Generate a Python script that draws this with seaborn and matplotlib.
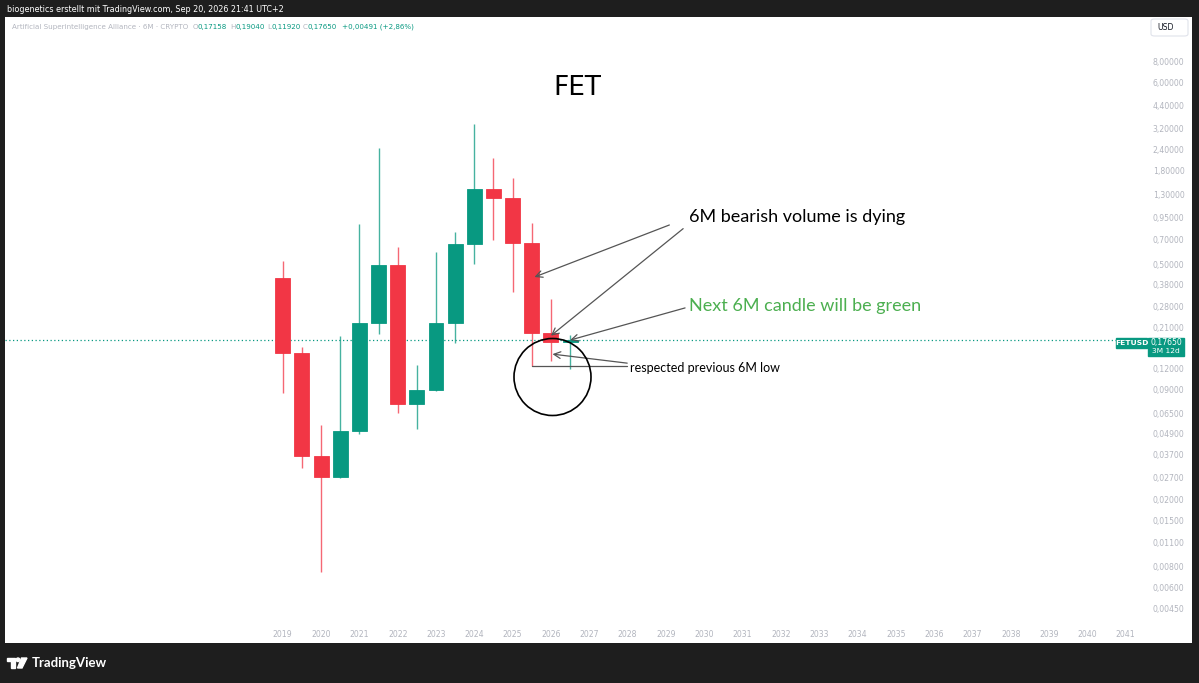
import matplotlib
matplotlib.use("Agg")
import matplotlib.pyplot as plt
import matplotlib.patches as mpatches
import seaborn as sns
import numpy as np

# 6M candles for FETUSD (start of each half year)
periods = [2019.0, 2019.5, 2020.0, 2020.5, 2021.0, 2021.5, 2022.0, 2022.5,
           2023.0, 2023.5, 2024.0, 2024.5, 2025.0, 2025.5, 2026.0, 2026.5]
opens = [0.413, 0.148, 0.0363, 0.0270, 0.0509, 0.2245, 0.495, 0.0734,
         0.0897, 0.2245, 0.663, 1.403, 1.246, 0.667, 0.194, 0.17158]
highs = [0.523, 0.160, 0.0553, 0.187, 0.869, 2.47, 0.636, 0.1258,
         0.594, 0.781, 3.42, 2.155, 1.626, 0.877, 0.309, 0.19040]
lows = [0.0853, 0.0308, 0.0074, 0.0266, 0.0486, 0.193, 0.0654, 0.0521,
        0.088, 0.1707, 0.504, 0.6975, 0.3406, 0.124, 0.133, 0.11920]
closes = [0.148, 0.0363, 0.0270, 0.0509, 0.2245, 0.495, 0.0734, 0.0897,
          0.2245, 0.663, 1.403, 1.246, 0.667, 0.194, 0.17158, 0.17650]

last_price = 0.17650
price_ticks = [8.0, 6.0, 4.4, 3.2, 2.4, 1.8, 1.3, 0.95, 0.70, 0.50, 0.38, 0.28, 0.21,
               0.12, 0.09, 0.065, 0.049, 0.037, 0.027, 0.020, 0.015, 0.011, 0.008,
               0.006, 0.0045]
year_ticks = list(range(2019, 2042))

GREEN = "#089981"
RED = "#f23645"
DARK = "#1e1e1e"
GREY = "#b2b5be"

sns.set_theme(style="white")
plt.rcParams['font.family'] = ['DejaVu Sans']

W, H = 1199, 683
fig = plt.figure(figsize=(W / 100, H / 100), dpi=100)
fig.patch.set_facecolor(DARK)


def fx(x):
    return x / W


def fy(y):
    return 1 - y / H


# white panel (behind the axes)
fig.patches.append(mpatches.Rectangle((fx(5), fy(643)), fx(1187), 626 / H,
                                      transform=fig.transFigure, facecolor="white",
                                      edgecolor="none", zorder=-10))

ax = fig.add_axes([fx(5), fy(625), fx(1138), 607 / H])
ax.set_facecolor("white")
ax.set_yscale("log")
ax.set_xlim(2011.753, 2041.45)
ax.set_ylim(0.003565, 14.62)

# candles
for t, o, h, l, c in zip(periods, opens, highs, lows, closes):
    col = GREEN if c >= o else RED
    ax.vlines(t, l, h, color=col, lw=1, alpha=0.75, zorder=2)
    ax.bar(t, abs(c - o), bottom=min(o, c), width=0.39, color=col,
           edgecolor=col, linewidth=0.6, zorder=3)

# last price line
ax.axhline(last_price, color=GREEN, lw=0.9, ls=(0, (1, 2)), zorder=1, xmax=0.985)

for s in ax.spines.values():
    s.set_visible(False)
ax.grid(False)
ax.yaxis.tick_right()
ax.set_yticks(price_ticks)
ax.set_yticklabels([f"{v:.5f}".replace(".", ",") for v in price_ticks])
ax.yaxis.set_minor_locator(matplotlib.ticker.NullLocator())
ax.set_xticks(year_ticks)
ax.set_xticklabels([str(y) for y in year_ticks])
ax.tick_params(axis="y", length=0, pad=7, labelsize=5.6, labelcolor=GREY)
ax.tick_params(axis="x", length=0, pad=3.5, labelsize=5.6, labelcolor=GREY)

# annotations
ax.text(2026.69, 5.6, "FET", fontsize=19, ha="center", va="center", color="black")
arrow = dict(arrowstyle="->", color="#555555", lw=0.9, shrinkA=0, shrinkB=0)
ax.annotate("", xy=(2025.57, 0.42), xytext=(2029.09, 0.857), arrowprops=arrow)
ax.annotate("", xy=(2026.0, 0.188), xytext=(2029.45, 0.815), arrowprops=arrow)
ax.text(2029.61, 0.956, "6M bearish volume is dying", fontsize=13, va="center",
        color="black", family="Lato")
ax.annotate("", xy=(2026.5, 0.177), xytext=(2029.5, 0.275), arrowprops=arrow)
ax.text(2029.61, 0.282, "Next 6M candle will be green", fontsize=13, va="center",
        color="#4caf50", family="Lato")
ax.annotate("", xy=(2026.04, 0.146), xytext=(2027.99, 0.129), arrowprops=arrow)
ax.plot([2025.5, 2027.99], [0.124, 0.124], color="#555555", lw=0.9)
ax.text(2028.07, 0.1207, "respected previous 6M low", fontsize=9, va="center",
        color="black", family="Lato")
fig.patches.append(mpatches.Ellipse((fx(552.5), fy(377)), 77 / W, 77 / H,
                                    transform=fig.transFigure, fill=False,
                                    edgecolor="black", lw=1.2, zorder=5))

# price label on the scale
fig.patches.append(mpatches.Rectangle((fx(1116), fy(348)), 31 / W, 10 / H,
                                      transform=fig.transFigure, color=GREEN, zorder=5))
fig.patches.append(mpatches.Rectangle((fx(1148), fy(356)), 36 / W, 18.5 / H,
                                      transform=fig.transFigure, color=GREEN, zorder=5))
fig.text(fx(1131.5), fy(343), "FETUSD", color="white", fontsize=5.4,
         ha="center", va="center", weight="bold", zorder=6)
fig.text(fx(1166), fy(342.5), "0,17650", color="white", fontsize=5.6,
         ha="center", va="center", zorder=6)
fig.text(fx(1166), fy(351), "3M 12d", color="white", fontsize=5.4,
         ha="center", va="center", zorder=6)

# USD box
fig.patches.append(mpatches.FancyBboxPatch((fx(1151), fy(36)), 37 / W, 17 / H,
                                           boxstyle="round,pad=0,rounding_size=0.003",
                                           transform=fig.transFigure, facecolor="white",
                                           edgecolor="#e0e3eb", lw=0.8))
fig.text(fx(1157), fy(28), "USD", color="#131722", fontsize=5.6, va="center")

# header texts
fig.text(fx(7), fy(9), "biogenetics erstellt mit TradingView.com, Sep 20, 2026 21:41 UTC+2",
         color="white", fontsize=5.8, va="center")
fig.text(fx(11.5), fy(27), "Artificial Superintelligence Alliance · 6M · CRYPTO",
         color=GREY, fontsize=5.1, va="center")
legend_parts = [(192.5, "O", GREY), (197, "0,17158", GREEN), (230, "H", GREY),
                (235, "0,19040", GREEN), (267, "L", GREY), (271, "0,11920", GREEN),
                (303, "C", GREY), (307.5, "0,17650", GREEN),
                (342, "+0,00491 (+2,86%)", GREEN)]
for x, s, c in legend_parts:
    fig.text(fx(x), fy(27), s, color=c, fontsize=5.1, va="center")

# TradingView logo
fig.patches.append(mpatches.Polygon([(fx(7), fy(658)), (fx(15), fy(658)), (fx(15), fy(668)),
                                     (fx(11), fy(668)), (fx(11), fy(661)), (fx(7), fy(661))],
                                    transform=fig.transFigure, color="white"))
fig.patches.append(mpatches.Ellipse((fx(18), fy(659.8)), 3.6 / W, 3.6 / H,
                                    transform=fig.transFigure, color="white"))
fig.patches.append(mpatches.Polygon([(fx(21.5), fy(658)), (fx(27), fy(658)), (fx(22), fy(668)),
                                     (fx(17.5), fy(668))],
                                    transform=fig.transFigure, color="white"))
fig.text(fx(32), fy(663), "TradingView", color="white", fontsize=9.5,
         va="center", weight="bold", family="Lato")

fig.savefig("out.png", dpi=100, facecolor=fig.get_facecolor())
